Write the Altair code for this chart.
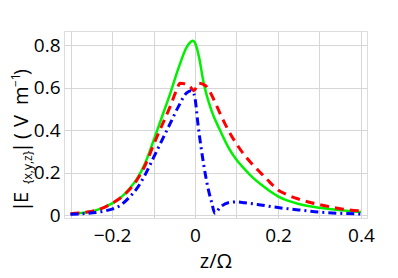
import altair as alt
import pandas as pd

# Green solid curve
g_z = [-0.30, -0.28, -0.26, -0.24, -0.22, -0.20, -0.18, -0.16, -0.14, -0.12, -0.10, -0.08,
       -0.06, -0.04, -0.02, -0.01, -0.005, 0.0, 0.01, 0.02, 0.04, 0.06, 0.08, 0.10, 0.12,
       0.14, 0.16, 0.18, 0.20, 0.22, 0.25, 0.28, 0.30, 0.35, 0.40]
g_v = [0.005, 0.008, 0.013, 0.022, 0.035, 0.055, 0.08, 0.12, 0.17, 0.245, 0.35, 0.46,
       0.57, 0.69, 0.79, 0.815, 0.82, 0.81, 0.74, 0.63, 0.49, 0.40, 0.32, 0.26, 0.215,
       0.175, 0.142, 0.113, 0.088, 0.07, 0.052, 0.04, 0.034, 0.022, 0.014]

# Red dashed curve
r_z = [-0.30, -0.28, -0.26, -0.24, -0.22, -0.20, -0.18, -0.16, -0.14, -0.12, -0.10, -0.08,
       -0.06, -0.045, -0.036, -0.02, -0.01, -0.003, 0.003, 0.008, 0.02, 0.03, 0.04, 0.06,
       0.08, 0.10, 0.12, 0.14, 0.16, 0.18, 0.20, 0.22, 0.25, 0.28, 0.30, 0.35, 0.40]
r_v = [0.006, 0.009, 0.014, 0.022, 0.035, 0.055, 0.08, 0.115, 0.165, 0.235, 0.33, 0.42,
       0.51, 0.585, 0.62, 0.615, 0.60, 0.585, 0.60, 0.62, 0.615, 0.60, 0.565, 0.48,
       0.40, 0.335, 0.28, 0.235, 0.195, 0.155, 0.118, 0.097, 0.075, 0.058, 0.049, 0.03, 0.019]

# Blue dash-dot curve
b_z = [-0.30, -0.26, -0.22, -0.20, -0.18, -0.16, -0.14, -0.12, -0.10, -0.08, -0.06, -0.04,
       -0.02, -0.01, -0.005, 0.0, 0.007, 0.016, 0.031, 0.04, 0.048, 0.06, 0.08, 0.10,
       0.12, 0.15, 0.20, 0.25, 0.30, 0.35, 0.40]
b_v = [0.004, 0.008, 0.018, 0.028, 0.045, 0.08, 0.125, 0.19, 0.27, 0.35, 0.43, 0.51,
       0.575, 0.585, 0.58, 0.55, 0.43, 0.30, 0.13, 0.06, 0.008, 0.035, 0.058, 0.062,
       0.058, 0.05, 0.035, 0.024, 0.014, 0.008, 0.005]

x_ticks = [-0.3, -0.2, -0.1, 0.0, 0.1, 0.2, 0.3, 0.4]
y_ticks = [0.0, 0.2, 0.4, 0.6, 0.8]

# y-axis title pieces (text, font size, baseline x, start y) in plot-area pixels
t_text = ["|", "E", "{x,y,z}", "|", "(", "V", "m", "\u22121", ")"]
t_size = [20, 20, 12, 20, 20, 20, 20, 12, 20]
t_x = [-36, -36, -32, -36, -36, -36, -36, -44, -36]
t_y = [181, 172, 153, 122, 108, 96, 74, 56, 44]

FONT = "Open Sans"

xs = alt.Scale(domain=[-0.3157, 0.4145], nice=False, zero=False)
ys = alt.Scale(domain=[-0.014, 0.866], nice=False, zero=False)

x_axis = alt.Axis(values=x_ticks, title="z/\u03a9",
                  labelExpr="abs(round(datum.value*10)) % 2 == 0 ? format(datum.value, '~g') : ''",
                  ticks=False, domain=False, gridColor="#d6d6d6", gridWidth=1,
                  labelFont=FONT, labelFontSize=19, labelColor="black", labelPadding=8,
                  titleFont=FONT, titleFontSize=20, titleFontWeight="normal",
                  titleColor="black", titlePadding=6, labelFlush=False)
y_axis = alt.Axis(values=y_ticks, title=None, format="~g",
                  ticks=False, domain=False, gridColor="#d6d6d6", gridWidth=1,
                  labelFont=FONT, labelFontSize=19, labelColor="black", labelPadding=4,
                  labelFlush=False)

gdf = pd.DataFrame({"z": g_z, "v": g_v})
rdf = pd.DataFrame({"z": r_z, "v": r_v})
bdf = pd.DataFrame({"z": b_z, "v": b_v})

base_green = alt.Chart(gdf).mark_line(color="#00f000", strokeWidth=2.5, interpolate="monotone").encode(
    x=alt.X("z:Q", scale=xs, axis=x_axis),
    y=alt.Y("v:Q", scale=ys, axis=y_axis),
)
red = alt.Chart(rdf).mark_line(color="#ff0000", strokeWidth=3, strokeDash=[9, 6],
                               interpolate="monotone").encode(
    x=alt.X("z:Q", scale=xs), y=alt.Y("v:Q", scale=ys))
blue = alt.Chart(bdf).mark_line(color="#0000ff", strokeWidth=3, strokeDash=[8, 4, 2, 4],
                                interpolate="monotone").encode(
    x=alt.X("z:Q", scale=xs), y=alt.Y("v:Q", scale=ys))

tdf = pd.DataFrame({"t": t_text, "s": t_size, "px": t_x, "py": t_y})
title = alt.Chart(tdf).mark_text(angle=270, align="left", baseline="alphabetic",
                                 font=FONT, color="black").encode(
    x=alt.X("px:Q", scale=None),
    y=alt.Y("py:Q", scale=None),
    text="t:N",
    size=alt.Size("s:Q", scale=None, legend=None),
)

chart = alt.layer(base_green, red, blue, title).properties(
    width=303, height=187,
    autosize=alt.AutoSizeParams(type="none"),
    padding={"left": 56, "top": 23, "right": 23, "bottom": 60},
).configure_view(stroke="#a0a0a0", strokeWidth=1).configure(background="white")

chart.save("out.html", embed_options={"renderer": "svg", "actions": False})
